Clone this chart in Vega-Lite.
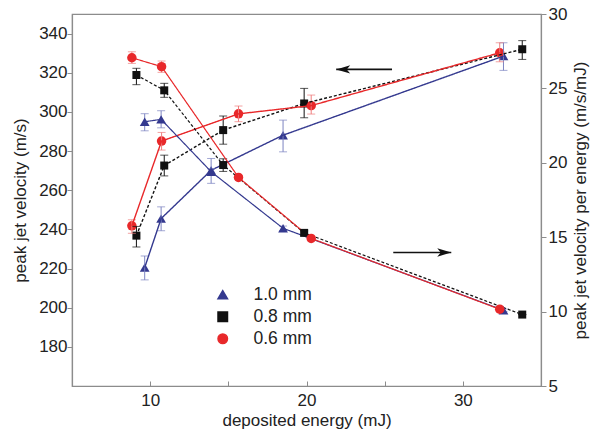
{
  "$schema": "https://vega.github.io/schema/vega-lite/v6.json",
  "width": 469,
  "height": 372,
  "autosize": "none",
  "padding": {"left": 72, "top": 14, "right": 53, "bottom": 50},
  "background": "white",
  "config": {
    "font": "Liberation Sans",
    "view": {"stroke": "#8c8c8c", "strokeWidth": 1.2},
    "axis": {
      "grid": false,
      "domainColor": "#8c8c8c",
      "domainWidth": 1.2,
      "tickColor": "#8c8c8c",
      "tickWidth": 1,
      "labelColor": "#222222",
      "labelFontSize": 17,
      "titleColor": "#222222",
      "titleFontSize": 17,
      "titleFontWeight": "normal"
    }
  },
  "datasets": {
    "pts": [
      {"s": "1.0 mm", "E": 9.65, "v": 220.5, "vlo": 214.2, "vhi": 226.4, "r": 22.76, "rlo": 22.15, "rhi": 23.3},
      {"s": "1.0 mm", "E": 10.7, "v": 245.5, "vlo": 239.3, "vhi": 251.5, "r": 22.92, "rlo": 22.35, "rhi": 23.5},
      {"s": "1.0 mm", "E": 13.9, "v": 270.2, "vlo": 263.5, "vhi": 276.2, "r": 19.4, "rlo": 19.2, "rhi": 19.6},
      {"s": "1.0 mm", "E": 18.5, "v": 288.1, "vlo": 279.6, "vhi": 295.8, "r": 15.6, "rlo": 15.45, "rhi": 15.75},
      {"s": "1.0 mm", "E": 32.6, "v": 328.5, "vlo": 321.2, "vhi": 335.3, "r": 10.09, "rlo": 10.0, "rhi": 10.18},
      {"s": "0.8 mm", "E": 9.12, "v": 236.8, "vlo": 231.0, "vhi": 241.5, "r": 25.9, "rlo": 25.25, "rhi": 26.35},
      {"s": "0.8 mm", "E": 10.9, "v": 272.6, "vlo": 267.3, "vhi": 277.9, "r": 24.87, "rlo": 24.4, "rhi": 25.34},
      {"s": "0.8 mm", "E": 14.67, "v": 290.7, "vlo": 283.5, "vhi": 297.9, "r": 19.85, "rlo": 19.42, "rhi": 20.27},
      {"s": "0.8 mm", "E": 19.85, "v": 304.3, "vlo": 297.0, "vhi": 312.0, "r": 15.29, "rlo": 15.15, "rhi": 15.43},
      {"s": "0.8 mm", "E": 33.8, "v": 332.0, "vlo": 326.8, "vhi": 336.4, "r": 9.8, "rlo": 9.8, "rhi": 9.8},
      {"s": "0.6 mm", "E": 8.83, "v": 241.8, "vlo": 238.0, "vhi": 244.9, "r": 27.06, "rlo": 26.68, "rhi": 27.46},
      {"s": "0.6 mm", "E": 10.73, "v": 285.1, "vlo": 280.5, "vhi": 289.5, "r": 26.46, "rlo": 26.08, "rhi": 26.84},
      {"s": "0.6 mm", "E": 15.65, "v": 299.0, "vlo": 295.0, "vhi": 303.0, "r": 19.02, "rlo": 18.9, "rhi": 19.14},
      {"s": "0.6 mm", "E": 20.3, "v": 303.2, "vlo": 298.9, "vhi": 308.6, "r": 14.92, "rlo": 14.8, "rhi": 15.04},
      {"s": "0.6 mm", "E": 32.36, "v": 330.2, "vlo": 325.6, "vhi": 335.3, "r": 10.16, "rlo": 10.05, "rhi": 10.27}
    ],
    "arrows": [
      {"dir": "left", "xtip": 21.9, "xtail": 25.47, "y": 321.7},
      {"dir": "right", "xtip": 29.26, "xtail": 25.55, "y": 228.2}
    ]
  },
  "layer": [
    {
      "data": {"name": "pts"},
      "encoding": {
        "x": {
          "field": "E", "type": "quantitative",
          "scale": {"domain": [5, 35], "nice": false, "zero": false},
          "axis": {
            "title": "deposited energy (mJ)",
            "values": [10, 15, 20, 25, 30],
            "labelExpr": "datum.value % 10 === 0 ? datum.label : ''",
            "tickSize": -5,
            "labelPadding": 11,
            "titlePadding": 4
          }
        }
      },
      "layer": [
        {
          "mark": {"type": "point", "filled": true, "opacity": 1,
            "size": {"expr": "datum.s === '1.0 mm' ? 95 : datum.s === '0.8 mm' ? 64 : 90"}},
          "encoding": {
            "y": {
              "field": "v", "type": "quantitative",
              "scale": {"domain": [160, 350], "nice": false, "zero": false},
              "axis": {
                "orient": "left",
                "title": "peak jet velocity (m/s)",
                "values": [180, 200, 220, 240, 260, 280, 300, 320, 340],
                "tickSize": 5,
                "labelPadding": 0,
                "titlePadding": 9
              }
            },
            "color": {
              "field": "s", "type": "nominal",
              "scale": {"domain": ["1.0 mm", "0.8 mm", "0.6 mm"], "range": ["#34398f", "#111111", "#e8282a"]},
              "legend": {
                "title": null,
                "orient": "none",
                "legendX": 142,
                "legendY": 272,
                "padding": 0,
                "rowPadding": 3,
                "symbolSize": 90,
                "labelOffset": 22,
                "labelFontSize": 17.5,
                "labelColor": "#222222"
              }
            },
            "shape": {
              "field": "s", "type": "nominal",
              "scale": {"domain": ["1.0 mm", "0.8 mm", "0.6 mm"], "range": ["triangle-up", "square", "circle"]},
              "legend": {
                "title": null,
                "orient": "none",
                "legendX": 142,
                "legendY": 272,
                "padding": 0,
                "rowPadding": 3,
                "symbolSize": 90,
                "labelOffset": 22,
                "labelFontSize": 17.5,
                "labelColor": "#222222"
              }
            }
          }
        },
        {
          "mark": {"type": "rule", "strokeWidth": 1, "stroke": {"expr": "datum.s === '1.0 mm' ? '#7d84c2' : datum.s === '0.8 mm' ? '#111111' : '#ef7d7d'"}},
          "encoding": {
            "y": {"field": "vlo", "type": "quantitative"},
            "y2": {"field": "vhi"}
          }
        },
        {
          "mark": {"type": "point", "shape": "M-1,0L1,0", "size": 64, "filled": false, "strokeWidth": 1, "stroke": {"expr": "datum.s === '1.0 mm' ? '#7d84c2' : datum.s === '0.8 mm' ? '#111111' : '#ef7d7d'"}},
          "encoding": {
            "y": {"field": "vlo", "type": "quantitative"}
          }
        },
        {
          "mark": {"type": "point", "shape": "M-1,0L1,0", "size": 64, "filled": false, "strokeWidth": 1, "stroke": {"expr": "datum.s === '1.0 mm' ? '#7d84c2' : datum.s === '0.8 mm' ? '#111111' : '#ef7d7d'"}},
          "encoding": {
            "y": {"field": "vhi", "type": "quantitative"}
          }
        },
        {
          "mark": {"type": "line", "strokeWidth": 1.4, "strokeDash": {"expr": "datum.s === '0.8 mm' ? [3, 2] : [1, 0]"}},
          "encoding": {
            "y": {"field": "v", "type": "quantitative"},
            "color": {"field": "s", "type": "nominal"},
            "order": {"field": "E", "type": "quantitative"}
          }
        },
        {
          "data": {"name": "arrows"},
          "mark": {"type": "rule", "color": "#111111", "strokeWidth": 1.6},
          "encoding": {
            "x": {"field": "xtip", "type": "quantitative"},
            "x2": {"field": "xtail"},
            "y": {"field": "y", "type": "quantitative"}
          }
        },
        {
          "data": {"name": "arrows"},
          "transform": [{"filter": "datum.dir === 'left'"}],
          "mark": {"type": "point", "shape": "M0,0L-2,-0.6L-1.5,0L-2,0.6Z", "size": 196, "angle": 180, "filled": true, "color": "#111111", "opacity": 1},
          "encoding": {
            "x": {"field": "xtip", "type": "quantitative"},
            "y": {"field": "y", "type": "quantitative"}
          }
        },
        {
          "data": {"name": "arrows"},
          "transform": [{"filter": "datum.dir === 'right'"}],
          "mark": {"type": "point", "shape": "M0,0L-2,-0.6L-1.5,0L-2,0.6Z", "size": 196, "filled": true, "color": "#111111", "opacity": 1},
          "encoding": {
            "x": {"field": "xtip", "type": "quantitative"},
            "y": {"field": "y", "type": "quantitative"}
          }
        }
      ]
    },
    {
      "data": {"name": "pts"},
      "encoding": {
        "x": {"field": "E", "type": "quantitative"}
      },
      "layer": [
        {
          "mark": {"type": "rule", "strokeWidth": 1, "stroke": {"expr": "datum.s === '1.0 mm' ? '#7d84c2' : datum.s === '0.8 mm' ? '#111111' : '#ef7d7d'"}},
          "encoding": {
            "y": {
              "field": "rlo", "type": "quantitative",
              "scale": {"domain": [5, 30], "nice": false, "zero": false},
              "axis": {
                "orient": "right",
                "title": "peak jet velocity per energy (m/s/mJ)",
                "titleAngle": -90,
                "titleBaseline": "top",
                "values": [5, 7.5, 10, 12.5, 15, 17.5, 20, 22.5, 25, 27.5, 30],
                "labelExpr": "datum.value % 5 === 0 ? datum.label : ''",
                "tickSize": {"condition": {"test": "datum.value % 5 === 0", "value": 5}, "value": 3.5},
                "labelPadding": 2,
                "titlePadding": 6
              }
            },
            "y2": {"field": "rhi"}
          }
        },
        {
          "mark": {"type": "point", "shape": "M-1,0L1,0", "size": 64, "filled": false, "strokeWidth": 1, "stroke": {"expr": "datum.s === '1.0 mm' ? '#7d84c2' : datum.s === '0.8 mm' ? '#111111' : '#ef7d7d'"}},
          "encoding": {
            "y": {"field": "rlo", "type": "quantitative"}
          }
        },
        {
          "mark": {"type": "point", "shape": "M-1,0L1,0", "size": 64, "filled": false, "strokeWidth": 1, "stroke": {"expr": "datum.s === '1.0 mm' ? '#7d84c2' : datum.s === '0.8 mm' ? '#111111' : '#ef7d7d'"}},
          "encoding": {
            "y": {"field": "rhi", "type": "quantitative"}
          }
        },
        {
          "mark": {"type": "line", "strokeWidth": 1.2, "strokeDash": {"expr": "datum.s === '0.8 mm' ? [3, 2] : [1, 0]"}},
          "encoding": {
            "y": {"field": "r", "type": "quantitative"},
            "color": {"field": "s", "type": "nominal"},
            "order": {"field": "E", "type": "quantitative"}
          }
        },
        {
          "mark": {"type": "point", "filled": true, "opacity": 1,
            "size": {"expr": "datum.s === '1.0 mm' ? 95 : datum.s === '0.8 mm' ? 64 : 90"}},
          "encoding": {
            "y": {"field": "r", "type": "quantitative"},
            "color": {"field": "s", "type": "nominal"},
            "shape": {"field": "s", "type": "nominal"}
          }
        }
      ]
    }
  ],
  "resolve": {"scale": {"y": "independent"}}
}
